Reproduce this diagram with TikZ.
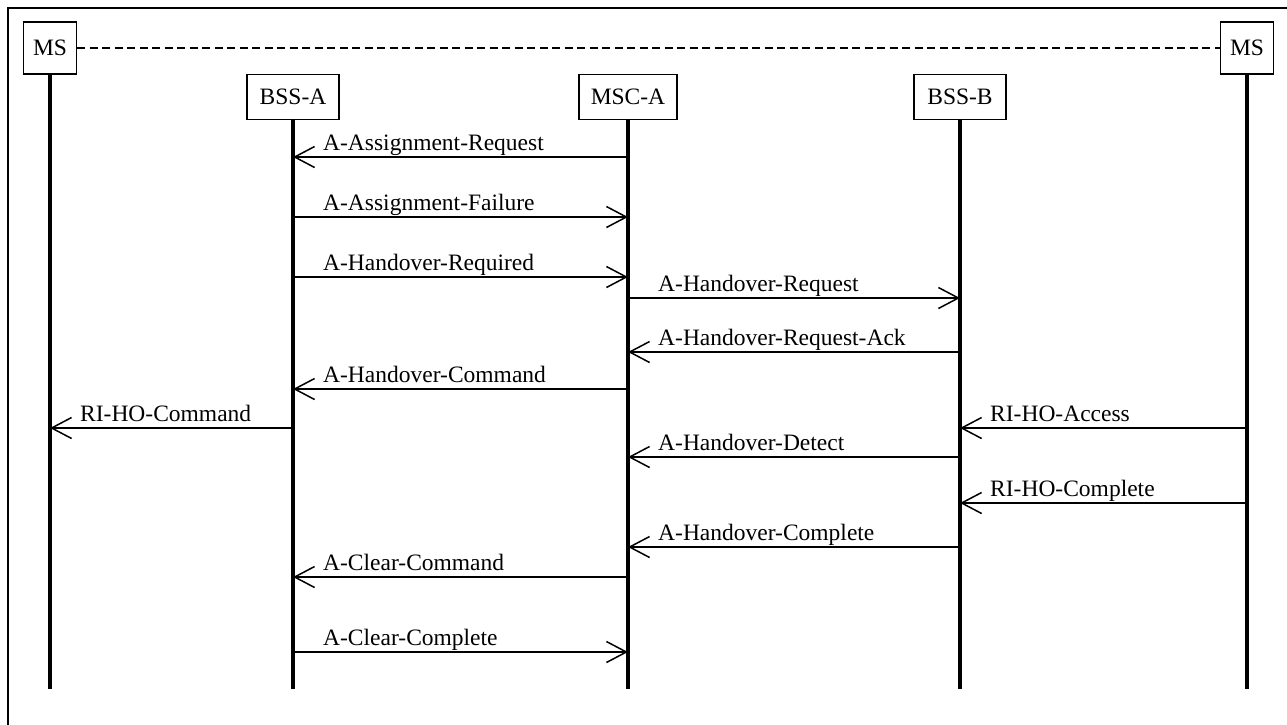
\documentclass[tikz,border=0pt]{standalone}
\usepackage{fontspec}
\setmainfont{Liberation Serif}
\usetikzlibrary{arrows.meta}
\tikzset{
  ent/.style={draw, line width=1.5pt, fill=white, inner sep=0pt, font=\fontsize{23.5}{28}\selectfont},
  life/.style={line width=4pt},
  msg/.style={line width=1.5pt, -{Straight Barb[length=20pt,width=21pt,line width=1.5pt]}},
  lbl/.style={anchor=base west, inner sep=0pt, font=\fontsize{23.5}{28}\selectfont},
  frame/.style={line width=1.5pt},
  dsh/.style={line width=1.5pt, dash pattern=on 8pt off 4.5pt}
}
\newcommand\sigmsg[5]{% name, from x, to x, y, text, label left x = min + 30
  \coordinate (#1s) at (#2,#4);
  \coordinate (#1e) at (#3,#4);
  \draw[msg] (#1s) -- (#1e);
  \pgfmathsetmacro\lx{min(#2,#3)+30}
  \node[lbl] (#1t) at (\lx,#4-7) {#5};
}
\begin{document}
\begin{tikzpicture}[x=1pt,y=-1pt]
\useasboundingbox (0,0) rectangle (1287,724);
\draw[frame] (8,730) -- (8,8) -- (1295,8);
% entities
\node[ent, minimum width=53pt, minimum height=52pt] (msL) at (50,48) {MS};
\node[ent, minimum width=53pt, minimum height=52pt] (msR) at (1247,48) {MS};
\node[ent, minimum width=92pt, minimum height=45pt] (bssA) at (293,97) {BSS-A};
\node[ent, minimum width=98pt, minimum height=45pt] (mscA) at (628,97) {MSC-A};
\node[ent, minimum width=92pt, minimum height=45pt] (bssB) at (960,97) {BSS-B};
\draw[dsh] (msL.east) -- (msR.west);
% lifeline ends
\coordinate (msLend) at (50,689);
\coordinate (msRend) at (1247,689);
\coordinate (bssAend) at (293,689);
\coordinate (mscAend) at (628,689);
\coordinate (bssBend) at (960,689);
\draw[life] (msL.south) -- (msLend);
\draw[life] (msR.south) -- (msRend);
\draw[life] (bssA.south) -- (bssAend);
\draw[life] (mscA.south) -- (mscAend);
\draw[life] (bssB.south) -- (bssBend);
% messages
\sigmsg{m1}{628}{293}{157}{A-Assignment-Request}
\sigmsg{m2}{293}{628}{217}{A-Assignment-Failure}
\sigmsg{m3}{293}{628}{277}{A-Handover-Required}
\sigmsg{m4}{628}{960}{298}{A-Handover-Request}
\sigmsg{m5}{960}{628}{352}{A-Handover-Request-Ack}
\sigmsg{m6}{628}{293}{389}{A-Handover-Command}
\sigmsg{m7}{293}{50}{428}{RI-HO-Command}
\sigmsg{m8}{1247}{960}{428}{RI-HO-Access}
\sigmsg{m9}{960}{628}{457}{A-Handover-Detect}
\sigmsg{m10}{1247}{960}{503}{RI-HO-Complete}
\sigmsg{m11}{960}{628}{547}{A-Handover-Complete}
\sigmsg{m12}{628}{293}{577}{A-Clear-Command}
\sigmsg{m13}{293}{628}{652}{A-Clear-Complete}
\end{tikzpicture}
\end{document}
